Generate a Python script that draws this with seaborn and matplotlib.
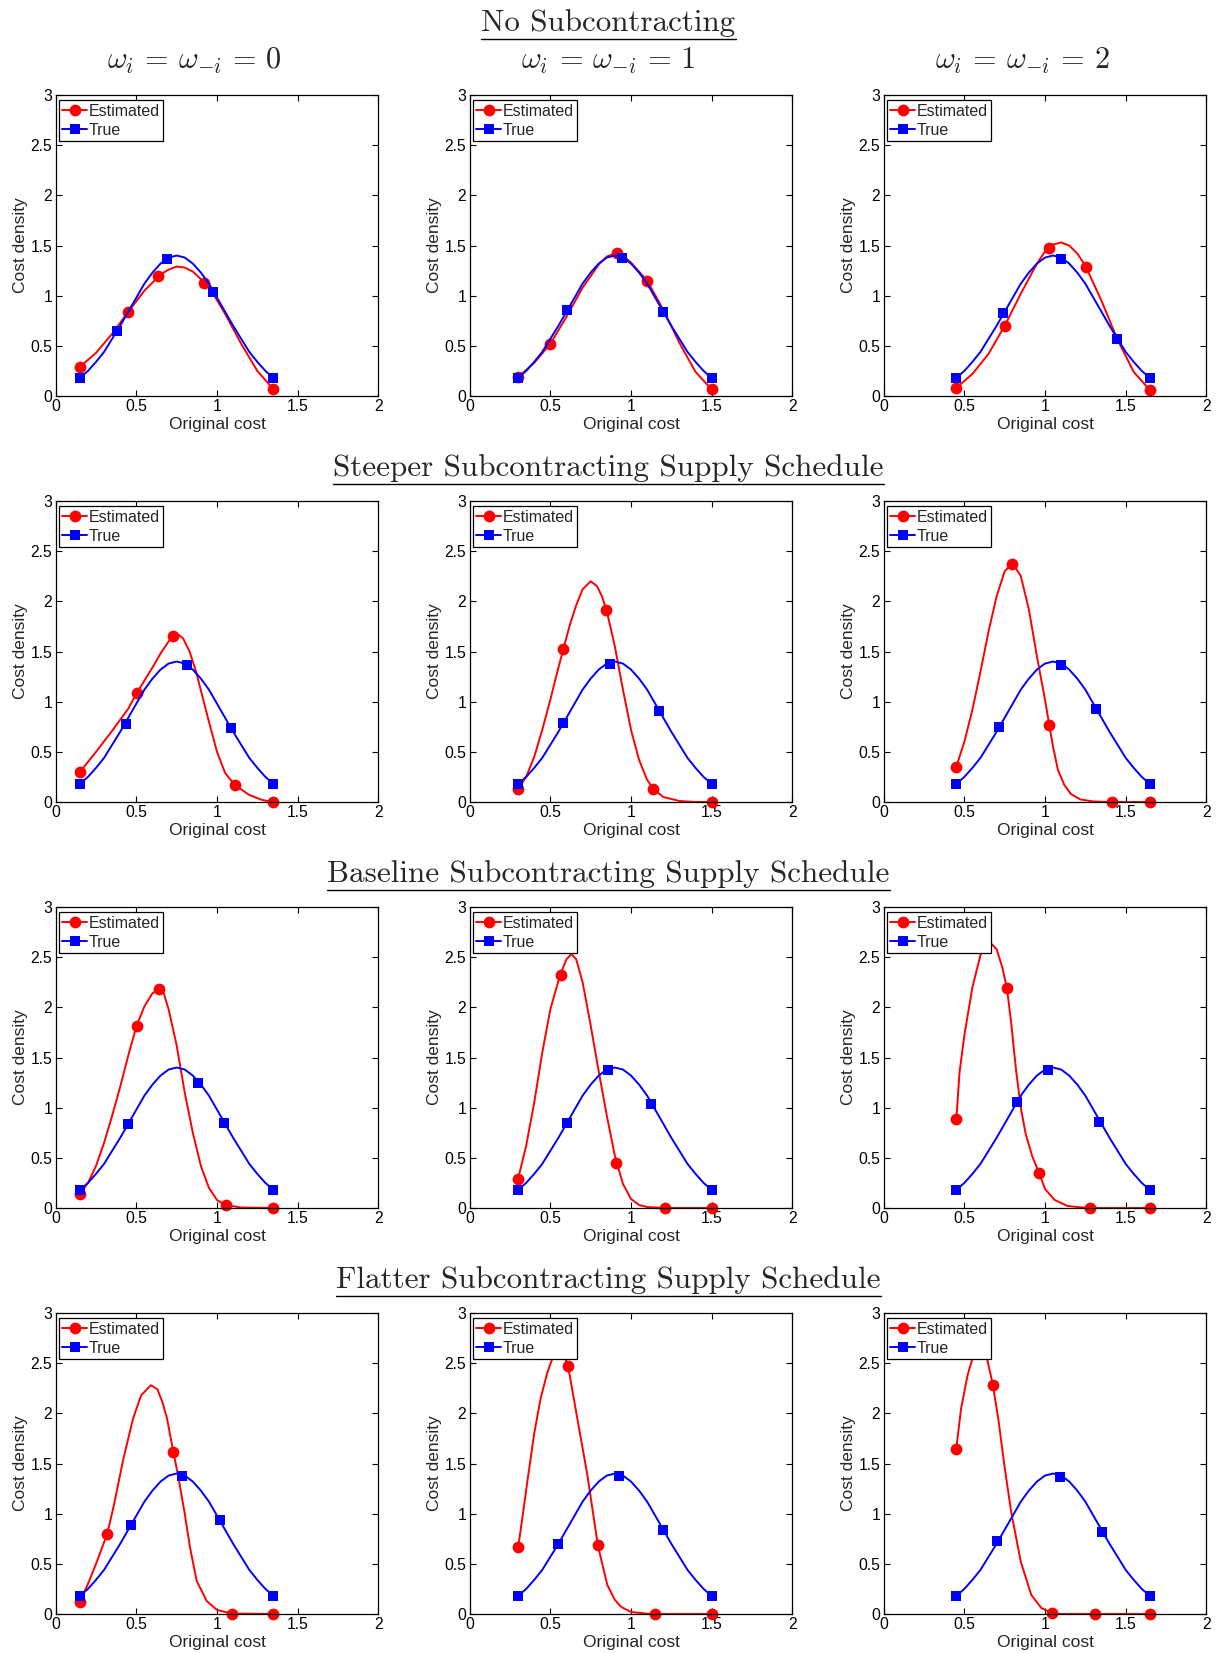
import matplotlib
matplotlib.use("Agg")
import matplotlib.pyplot as plt
from matplotlib.lines import Line2D
import pandas as pd
import seaborn as sns

# ---------------------------------------------------------------- labels
ROW_TITLES = [
    "No Subcontracting",
    "Steeper Subcontracting Supply Schedule",
    "Baseline Subcontracting Supply Schedule",
    "Flatter Subcontracting Supply Schedule",
]
COL_TITLES = [
    r"$\omega_i \,=\, \omega_{-i} \,=\, 0$",
    r"$\omega_i \,=\, \omega_{-i} \,=\, 1$",
    r"$\omega_i \,=\, \omega_{-i} \,=\, 2$",
]
X_TICKS = [0, 0.5, 1, 1.5, 2]
X_TICK_LABELS = ["0", "0.5", "1", "1.5", "2"]
Y_TICKS = [0, 0.5, 1, 1.5, 2, 2.5, 3]
Y_TICK_LABELS = ["0", "0.5", "1", "1.5", "2", "2.5", "3"]
LEGEND_LABELS = ["Estimated", "True"]

# ---------------------------------------------------------------- true cost density (one per omega)
TRUE_X_W0 = [0.15, 0.20, 0.25, 0.30, 0.35, 0.40, 0.45, 0.50, 0.55, 0.60, 0.65, 0.70, 0.75,
             0.80, 0.85, 0.90, 0.95, 1.00, 1.05, 1.10, 1.15, 1.20, 1.25, 1.30, 1.35]
TRUE_X_W1 = [0.30, 0.35, 0.40, 0.45, 0.50, 0.55, 0.60, 0.65, 0.70, 0.75, 0.80, 0.85, 0.90,
             0.95, 1.00, 1.05, 1.10, 1.15, 1.20, 1.25, 1.30, 1.35, 1.40, 1.45, 1.50]
TRUE_X_W2 = [0.45, 0.50, 0.55, 0.60, 0.65, 0.70, 0.75, 0.80, 0.85, 0.90, 0.95, 1.00, 1.05,
             1.10, 1.15, 1.20, 1.25, 1.30, 1.35, 1.40, 1.45, 1.50, 1.55, 1.60, 1.65]
TRUE_DENSITY = [0.18, 0.25, 0.34, 0.44, 0.57, 0.70, 0.84, 0.98, 1.12, 1.23, 1.32, 1.38, 1.40,
                1.38, 1.32, 1.23, 1.12, 0.98, 0.84, 0.70, 0.57, 0.44, 0.34, 0.25, 0.18]

# ---------------------------------------------------------------- estimated densities (x, y)
est_nosub_w0 = [(0.15, 0.29), (0.25, 0.43), (0.35, 0.62), (0.45, 0.84), (0.55, 1.05), (0.65, 1.21),
                (0.70, 1.26), (0.75, 1.29), (0.80, 1.28), (0.85, 1.24), (0.95, 1.09), (1.05, 0.82),
                (1.15, 0.52), (1.25, 0.25), (1.35, 0.066)]
est_nosub_w1 = [(0.30, 0.19), (0.40, 0.33), (0.50, 0.52), (0.60, 0.79), (0.70, 1.08), (0.80, 1.31),
                (0.85, 1.39), (0.90, 1.42), (0.95, 1.40), (1.00, 1.33), (1.10, 1.15), (1.20, 0.86),
                (1.30, 0.53), (1.40, 0.24), (1.50, 0.066)]
est_nosub_w2 = [(0.45, 0.08), (0.55, 0.22), (0.65, 0.42), (0.75, 0.70), (0.85, 1.02), (0.95, 1.32),
                (1.00, 1.44), (1.05, 1.51), (1.10, 1.53), (1.15, 1.50), (1.20, 1.42), (1.25, 1.30),
                (1.35, 0.95), (1.45, 0.56), (1.55, 0.24), (1.65, 0.06)]

est_steep_w0 = [(0.15, 0.30), (0.25, 0.50), (0.35, 0.71), (0.45, 0.93), (0.50, 1.08), (0.60, 1.34),
                (0.65, 1.48), (0.70, 1.60), (0.73, 1.655), (0.76, 1.67), (0.79, 1.63), (0.83, 1.50),
                (0.87, 1.30), (0.91, 1.05), (0.95, 0.80), (1.00, 0.50), (1.05, 0.29), (1.11, 0.17),
                (1.20, 0.07), (1.28, 0.02), (1.35, 0.0)]
est_steep_w1 = [(0.30, 0.13), (0.35, 0.25), (0.40, 0.45), (0.45, 0.72), (0.50, 1.02), (0.55, 1.34),
                (0.58, 1.52), (0.62, 1.76), (0.66, 1.96), (0.70, 2.12), (0.75, 2.20), (0.79, 2.15),
                (0.82, 2.05), (0.85, 1.90), (0.90, 1.55), (0.95, 1.12), (1.00, 0.72), (1.05, 0.42),
                (1.10, 0.22), (1.14, 0.13), (1.20, 0.05), (1.30, 0.01), (1.40, 0.0), (1.50, 0.0)]
est_steep_w2 = [(0.45, 0.35), (0.50, 0.60), (0.55, 0.92), (0.60, 1.30), (0.65, 1.70), (0.70, 2.05),
                (0.75, 2.30), (0.80, 2.38), (0.85, 2.25), (0.90, 1.92), (0.95, 1.45), (1.00, 1.02),
                (1.027, 0.76), (1.05, 0.55), (1.08, 0.32), (1.12, 0.17), (1.16, 0.08), (1.22, 0.025),
                (1.30, 0.005), (1.42, 0.0), (1.65, 0.0)]

est_base_w0 = [(0.15, 0.14), (0.20, 0.25), (0.25, 0.42), (0.30, 0.65), (0.35, 0.92), (0.40, 1.21),
               (0.45, 1.52), (0.50, 1.81), (0.55, 2.01), (0.60, 2.14), (0.64, 2.185), (0.67, 2.14),
               (0.70, 1.98), (0.75, 1.62), (0.80, 1.15), (0.85, 0.75), (0.90, 0.42), (0.95, 0.20),
               (1.00, 0.08), (1.05, 0.03), (1.15, 0.005), (1.35, 0.0)]
est_base_w1 = [(0.30, 0.29), (0.35, 0.62), (0.40, 1.05), (0.45, 1.55), (0.50, 1.98), (0.56, 2.32),
               (0.60, 2.48), (0.63, 2.53), (0.66, 2.48), (0.70, 2.25), (0.75, 1.82), (0.80, 1.36),
               (0.85, 0.92), (0.90, 0.52), (0.95, 0.24), (1.00, 0.09), (1.05, 0.03), (1.10, 0.01),
               (1.21, 0.0), (1.50, 0.0)]
est_base_w2 = [(0.45, 0.88), (0.47, 1.35), (0.50, 1.72), (0.55, 2.20), (0.60, 2.52), (0.65, 2.66),
               (0.70, 2.58), (0.735, 2.40), (0.764, 2.19), (0.79, 1.85), (0.82, 1.38), (0.85, 1.00),
               (0.88, 0.74), (0.92, 0.52), (0.963, 0.35), (1.00, 0.19), (1.06, 0.08), (1.14, 0.02),
               (1.25, 0.003), (1.30, 0.0), (1.65, 0.0)]

est_flat_w0 = [(0.15, 0.12), (0.20, 0.30), (0.25, 0.50), (0.32, 0.80), (0.36, 1.08), (0.42, 1.55),
               (0.48, 1.95), (0.53, 2.18), (0.59, 2.28), (0.63, 2.24), (0.66, 2.12), (0.69, 1.95),
               (0.729, 1.62), (0.76, 1.37), (0.80, 1.00), (0.833, 0.66), (0.874, 0.33), (0.936, 0.13),
               (1.00, 0.04), (1.09, 0.005), (1.35, 0.0)]
est_flat_w1 = [(0.30, 0.66), (0.33, 1.00), (0.36, 1.35), (0.40, 1.80), (0.44, 2.15), (0.48, 2.40),
               (0.52, 2.58), (0.55, 2.66), (0.58, 2.60), (0.61, 2.47), (0.667, 1.95), (0.729, 1.39),
               (0.795, 0.68), (0.853, 0.29), (0.90, 0.14), (0.94, 0.07), (1.00, 0.02), (1.10, 0.003),
               (1.15, 0.0), (1.50, 0.0)]
est_flat_w2 = [(0.45, 1.65), (0.48, 2.05), (0.52, 2.38), (0.56, 2.60), (0.60, 2.70), (0.64, 2.55),
               (0.676, 2.29), (0.71, 1.95), (0.75, 1.46), (0.79, 1.02), (0.85, 0.52), (0.915, 0.19),
               (0.977, 0.06), (1.043, 0.01), (1.10, 0.0), (1.65, 0.0)]

# ---------------------------------------------------------------- marker points (x, y)
est_pts_nosub_w0 = [(0.15, 0.29), (0.446, 0.84), (0.632, 1.196), (0.919, 1.13), (1.35, 0.066)]
est_pts_nosub_w1 = [(0.30, 0.19), (0.496, 0.518), (0.911, 1.422), (1.101, 1.15), (1.50, 0.066)]
est_pts_nosub_w2 = [(0.45, 0.083), (0.750, 0.698), (1.023, 1.472), (1.256, 1.289), (1.65, 0.06)]
est_pts_steep_w0 = [(0.15, 0.30), (0.502, 1.083), (0.729, 1.654), (1.112, 0.173), (1.35, 0.0)]
est_pts_steep_w1 = [(0.30, 0.13), (0.581, 1.522), (0.847, 1.91), (1.136, 0.126), (1.50, 0.0)]
est_pts_steep_w2 = [(0.45, 0.352), (0.798, 2.369), (1.027, 0.764), (1.417, 0.0), (1.65, 0.0)]
est_pts_base_w0 = [(0.15, 0.14), (0.502, 1.814), (0.640, 2.179), (1.054, 0.033), (1.35, 0.0)]
est_pts_base_w1 = [(0.30, 0.29), (0.564, 2.319), (0.909, 0.452), (1.211, 0.0), (1.50, 0.0)]
est_pts_base_w2 = [(0.45, 0.884), (0.764, 2.193), (0.963, 0.352), (1.279, 0.0), (1.65, 0.0)]
est_pts_flat_w0 = [(0.15, 0.12), (0.320, 0.797), (0.729, 1.615), (1.091, 0.0), (1.35, 0.0)]
est_pts_flat_w1 = [(0.30, 0.664), (0.610, 2.468), (0.795, 0.684), (1.147, 0.0), (1.50, 0.0)]
est_pts_flat_w2 = [(0.45, 1.648), (0.676, 2.286), (1.043, 0.01), (1.308, 0.0), (1.65, 0.0)]

true_pts_nosub_w0 = [(0.15, 0.18), (0.378, 0.651), (0.688, 1.365), (0.977, 1.037), (1.35, 0.18)]
true_pts_nosub_w1 = [(0.30, 0.18), (0.605, 0.857), (0.946, 1.372), (1.198, 0.840), (1.50, 0.18)]
true_pts_nosub_w2 = [(0.45, 0.18), (0.740, 0.830), (1.101, 1.365), (1.448, 0.565), (1.65, 0.18)]
true_pts_steep_w0 = [(0.15, 0.18), (0.436, 0.780), (0.812, 1.362), (1.087, 0.734), (1.35, 0.18)]
true_pts_steep_w1 = [(0.30, 0.18), (0.579, 0.790), (0.870, 1.379), (1.171, 0.907), (1.50, 0.18)]
true_pts_steep_w2 = [(0.45, 0.18), (0.715, 0.751), (1.101, 1.365), (1.314, 0.930), (1.65, 0.18)]
true_pts_base_w0 = [(0.15, 0.18), (0.450, 0.841), (0.884, 1.249), (1.045, 0.847), (1.35, 0.18)]
true_pts_base_w1 = [(0.30, 0.18), (0.605, 0.847), (0.857, 1.372), (1.126, 1.040), (1.50, 0.18)]
true_pts_base_w2 = [(0.45, 0.18), (0.829, 1.056), (1.019, 1.379), (1.335, 0.857), (1.65, 0.18)]
true_pts_flat_w0 = [(0.15, 0.18), (0.467, 0.890), (0.781, 1.372), (1.019, 0.934), (1.35, 0.18)]
true_pts_flat_w1 = [(0.30, 0.18), (0.550, 0.698), (0.926, 1.372), (1.198, 0.840), (1.50, 0.18)]
true_pts_flat_w2 = [(0.45, 0.18), (0.705, 0.724), (1.095, 1.362), (1.353, 0.814), (1.65, 0.18)]

TRUE_X = [TRUE_X_W0, TRUE_X_W1, TRUE_X_W2]
PANELS = [
    [(est_nosub_w0, est_pts_nosub_w0, true_pts_nosub_w0),
     (est_nosub_w1, est_pts_nosub_w1, true_pts_nosub_w1),
     (est_nosub_w2, est_pts_nosub_w2, true_pts_nosub_w2)],
    [(est_steep_w0, est_pts_steep_w0, true_pts_steep_w0),
     (est_steep_w1, est_pts_steep_w1, true_pts_steep_w1),
     (est_steep_w2, est_pts_steep_w2, true_pts_steep_w2)],
    [(est_base_w0, est_pts_base_w0, true_pts_base_w0),
     (est_base_w1, est_pts_base_w1, true_pts_base_w1),
     (est_base_w2, est_pts_base_w2, true_pts_base_w2)],
    [(est_flat_w0, est_pts_flat_w0, true_pts_flat_w0),
     (est_flat_w1, est_pts_flat_w1, true_pts_flat_w1),
     (est_flat_w2, est_pts_flat_w2, true_pts_flat_w2)],
]

# ---------------------------------------------------------------- style
sns.set_style("white")
plt.rcParams["font.family"] = ["Liberation Sans", "DejaVu Sans"]
plt.rcParams["mathtext.fontset"] = "cm"

RED = (1.0, 0.0, 0.0)
BLUE = (0.0, 0.0, 1.0)
LW = 1.4

W, H = 1222, 1653
fig = plt.figure(figsize=(W / 100, H / 100), dpi=100)
fig.patch.set_facecolor("white")

COL_LEFT = [55.7, 469.7, 883.7]
ROW_TOP = [95.0, 501.0, 907.0, 1313.0]
AX_W, AX_H = 322.6, 301.0


def to_frame(pairs):
    return pd.DataFrame(pairs, columns=["x", "y"])


for r in range(4):
    for c in range(3):
        left, top = COL_LEFT[c], ROW_TOP[r]
        ax = fig.add_axes([left / W, 1 - (top + AX_H) / H, AX_W / W, AX_H / H])
        est_curve, est_pts, true_pts = PANELS[r][c]

        sns.lineplot(data=to_frame(est_curve), x="x", y="y", ax=ax, color=RED, lw=LW,
                     sort=False, estimator=None, zorder=2)
        ep = to_frame(est_pts)
        sns.scatterplot(data=ep, x="x", y="y", ax=ax, color=RED, marker="o", s=72,
                        linewidth=0, zorder=2.1, clip_on=False)

        true_df = pd.DataFrame({"x": TRUE_X[c], "y": TRUE_DENSITY})
        sns.lineplot(data=true_df, x="x", y="y", ax=ax, color=BLUE, lw=LW,
                     sort=False, estimator=None, zorder=2.2)
        tp = to_frame(true_pts)
        sns.scatterplot(data=tp, x="x", y="y", ax=ax, color=BLUE, marker="s", s=48,
                        linewidth=0, zorder=2.3, clip_on=False)

        ax.set_xlim(0, 2)
        ax.set_ylim(0, 3)
        ax.set_xticks(X_TICKS)
        ax.set_xticklabels(X_TICK_LABELS)
        ax.set_yticks(Y_TICKS)
        ax.set_yticklabels(Y_TICK_LABELS)
        ax.tick_params(direction="in", length=4.5, width=0.8, top=True, right=True,
                       bottom=True, left=True, labelsize=11.3, pad=2.5, colors="black")
        for sp in ax.spines.values():
            sp.set_visible(True)
            sp.set_color("black")
            sp.set_linewidth(0.9)
        ax.set_xlabel("Original cost", fontsize=12.5, labelpad=2)
        ax.set_ylabel("Cost density", fontsize=12.5, labelpad=2)

        handles = [
            Line2D([], [], color=RED, lw=LW, marker="o", markersize=8.5, markeredgewidth=0),
            Line2D([], [], color=BLUE, lw=LW, marker="s", markersize=6.9, markeredgewidth=0),
        ]
        leg = ax.legend(handles, LEGEND_LABELS, loc="upper left",
                        bbox_to_anchor=(3 / AX_W, 1 - 5 / AX_H), borderaxespad=0,
                        fontsize=11.5, frameon=True, fancybox=False, framealpha=1,
                        edgecolor="black", handlelength=1.55, handletextpad=0.1,
                        labelspacing=0.25, borderpad=0.22)
        leg.get_frame().set_linewidth(0.9)
        leg.set_zorder(10)

# ---------------------------------------------------------------- headings
ROW_BASELINE = [31.0, 476.0, 882.0, 1288.0]
ROW_UNDERLINE = [39.0, 483.5, 889.5, 1296.0]
ROW_WIDTH = [254.0, 550.0, 562.0, 544.0]
COL_CENTER = [194.0, 608.0, 1022.0]
COL_BASELINE = 69.0

row_texts = []
for title, base in zip(ROW_TITLES, ROW_BASELINE):
    t = fig.text(608.5 / W, 1 - base / H, title, ha="center", va="baseline",
                 fontname="cmr10", fontsize=21)
    row_texts.append(t)

col_texts = []
for title, cx in zip(COL_TITLES, COL_CENTER):
    t = fig.text(cx / W, 1 - COL_BASELINE / H, title, ha="center", va="baseline",
                 fontsize=20)
    col_texts.append(t)

fig.canvas.draw()
renderer = fig.canvas.get_renderer()
# size the serif headings to their printed widths
for t, target in zip(row_texts, ROW_WIDTH):
    bb = t.get_window_extent(renderer)
    t.set_fontsize(t.get_fontsize() * target / bb.width)
for t in col_texts:
    bb = t.get_window_extent(renderer)
    t.set_fontsize(t.get_fontsize() * 175.0 / bb.width)
fig.canvas.draw()

for t, uy in zip(row_texts, ROW_UNDERLINE):
    bb = t.get_window_extent(renderer)
    y = 1 - uy / H
    fig.add_artist(Line2D([bb.x0 / W, bb.x1 / W], [y, y], transform=fig.transFigure,
                          color="black", lw=1.0))

fig.savefig("out.png", dpi=100, facecolor="white")
